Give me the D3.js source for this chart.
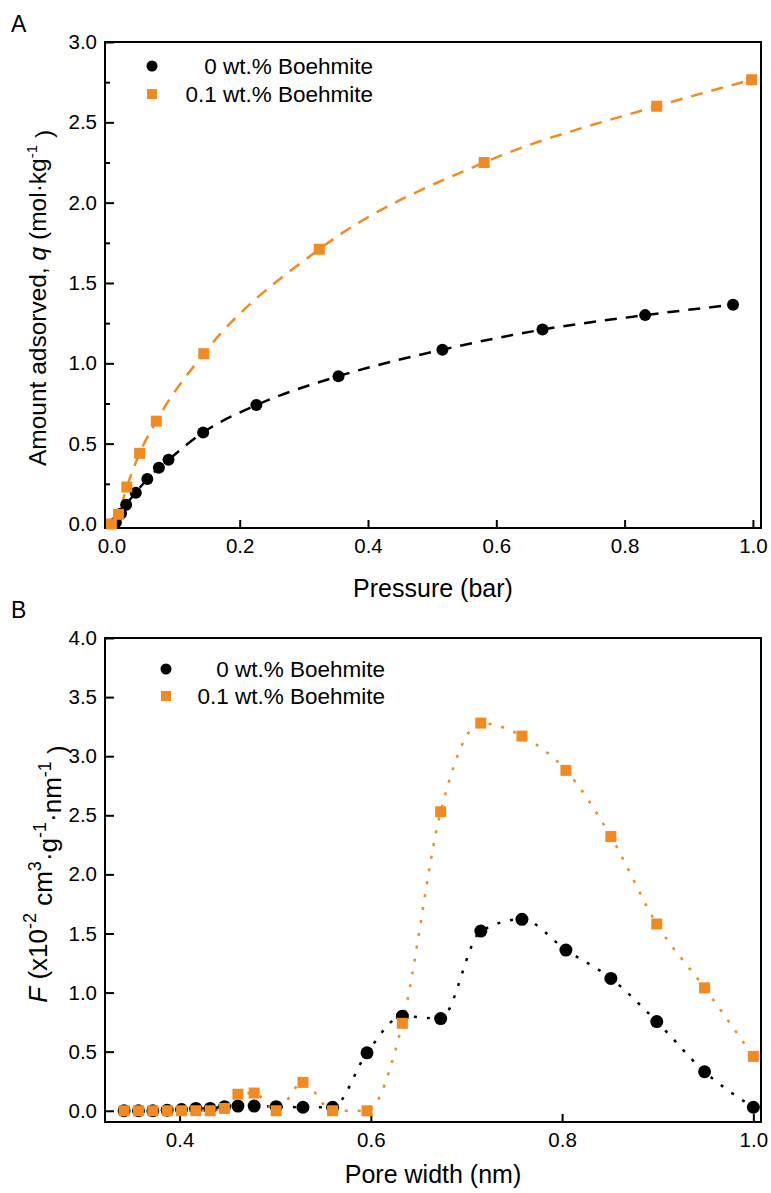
<!DOCTYPE html>
<html>
<head>
<meta charset="utf-8">
<script src="https://cdn.jsdelivr.net/npm/d3@7"></script>
<style>
  body { margin: 0; background: #fff; }
  svg text { font-family: Arial, "Liberation Sans", sans-serif; fill: #000; }
</style>
</head>
<body>
<div id="chart"></div>
<script>
const width = 771, height = 1193;
const orange = "#f28a22";
const seriesNames = ["0 wt.% Boehmite", "0.1 wt.% Boehmite"];

// panel A - adsorption isotherms
const pressure0 = [0.007, 0.015, 0.023, 0.038, 0.056, 0.074, 0.089, 0.143, 0.226, 0.354, 0.516, 0.672, 0.832, 0.969];
const q0 = [0.01, 0.065, 0.12, 0.195, 0.28, 0.35, 0.40, 0.57, 0.74, 0.92, 1.085, 1.21, 1.30, 1.365];
const pressure1 = [0.0, 0.011, 0.024, 0.044, 0.07, 0.144, 0.324, 0.581, 0.85, 0.998];
const q1 = [0.0, 0.06, 0.23, 0.44, 0.64, 1.06, 1.71, 2.25, 2.60, 2.765];
const ticksA_x = [0.0, 0.2, 0.4, 0.6, 0.8, 1.0];
const ticksA_y = [0.0, 0.5, 1.0, 1.5, 2.0, 2.5, 3.0];

// panel B - pore size distribution
const poreWidth = [0.342, 0.357, 0.372, 0.387, 0.402, 0.417, 0.432, 0.447, 0.461, 0.478, 0.501, 0.529, 0.560, 0.596, 0.633, 0.673, 0.715, 0.758, 0.804, 0.851, 0.899, 0.949, 1.0];
const f0 = [0.0, 0.0, 0.0, 0.005, 0.01, 0.02, 0.02, 0.035, 0.04, 0.04, 0.035, 0.03, 0.03, 0.49, 0.80, 0.78, 1.52, 1.62, 1.36, 1.12, 0.755, 0.33, 0.03];
const f1 = [0.0, 0.0, 0.0, 0.0, 0.0, 0.0, 0.0, 0.02, 0.14, 0.15, 0.0, 0.24, 0.0, 0.0, 0.74, 2.53, 3.28, 3.17, 2.88, 2.32, 1.58, 1.04, 0.46];
const ticksB_x = [0.4, 0.6, 0.8, 1.0];
const ticksB_y = [0.0, 0.5, 1.0, 1.5, 2.0, 2.5, 3.0, 3.5, 4.0];

const svg = d3.select("#chart")
  .append("svg")
  .attr("width", width)
  .attr("height", height);

const fmt = d3.format(".1f");

function drawPanel(p) {
  const x = d3.scaleLinear().domain(p.xDomain).range([p.left, p.right]);
  const y = d3.scaleLinear().domain(p.yDomain).range([p.bottom, p.top]);

  // inward ticks
  const gx = svg.append("g")
    .attr("transform", `translate(0,${p.bottom})`)
    .call(d3.axisBottom(x).tickValues(p.xTicks).tickSize(-8).tickPadding(10).tickFormat(fmt));
  const gy = svg.append("g")
    .attr("transform", `translate(${p.left},0)`)
    .call(d3.axisLeft(y).tickValues(p.yTicks).tickSize(-9).tickPadding(8).tickFormat(fmt));
  if (p.yMinor) {
    svg.append("g")
      .attr("transform", `translate(${p.left},0)`)
      .call(d3.axisLeft(y).tickValues(p.yMinor).tickSize(-5).tickFormat(""))
      .call(g => g.select(".domain").remove())
      .selectAll("line").attr("stroke-width", 2);
  }
  [gx, gy].forEach(g => {
    g.select(".domain").remove();
    g.selectAll(".tick line").attr("stroke-width", 2);
    g.selectAll(".tick text").style("font-size", "20.5px");
  });

  svg.append("rect")
    .attr("x", p.left).attr("y", p.top)
    .attr("width", p.right - p.left).attr("height", p.bottom - p.top)
    .attr("fill", "none").attr("stroke", "#000").attr("stroke-width", 2);

  const line = d3.line().x(d => x(d[0])).y(d => y(d[1])).curve(d3.curveMonotoneX);

  p.series.forEach(s => {
    const pts = s.xs.map((v, j) => [v, s.ys[j]]);
    svg.append("path")
      .datum(pts)
      .attr("d", line)
      .attr("fill", "none")
      .attr("stroke", s.color)
      .attr("stroke-width", 2.5)
      .attr("stroke-dasharray", p.dash);
  });

  p.series.forEach((s, i) => {
    const pts = s.xs.map((v, j) => [v, s.ys[j]]);
    if (i === 0) {
      svg.append("g").selectAll("circle").data(pts).join("circle")
        .attr("cx", d => x(d[0])).attr("cy", d => y(d[1]))
        .attr("r", p.r).attr("fill", s.color);
    } else {
      svg.append("g").selectAll("rect").data(pts).join("rect")
        .attr("x", d => x(d[0]) - p.sq / 2).attr("y", d => y(d[1]) - p.sq / 2)
        .attr("width", p.sq).attr("height", p.sq).attr("fill", s.color);
    }
  });

  // legend
  const lg = svg.append("g");
  lg.append("circle").attr("cx", p.legX).attr("cy", p.legY).attr("r", 5.5).attr("fill", "#000");
  lg.append("rect").attr("x", p.legX - 5).attr("y", p.legY + p.legDy - 5).attr("width", 10).attr("height", 10).attr("fill", orange);
  seriesNames.forEach((n, i) => {
    lg.append("text")
      .attr("x", p.legEnd).attr("y", p.legY + i * p.legDy)
      .attr("dy", "0.35em")
      .attr("text-anchor", "end")
      .style("font-size", "22.5px")
      .text(n);
  });

  // panel letter
  svg.append("text").attr("x", 11).attr("y", p.letterY)
    .style("font-size", "23px").text(p.letter);

  // x title
  svg.append("text")
    .attr("x", 433).attr("y", p.xTitleY)
    .attr("text-anchor", "middle")
    .style("font-size", "25px")
    .text(p.xTitle);

  return {x, y};
}

drawPanel({
  letter: "A", letterY: 32,
  left: 105, right: 761, top: 42, bottom: 528,
  xDomain: [-0.01, 1.0126], yDomain: [-0.025, 3.0],
  xTicks: ticksA_x, yTicks: ticksA_y, yMinor: [0.25, 0.75, 1.25, 1.75, 2.25, 2.75],
  dash: "12,9", r: 6, sq: 11,
  series: [
    {xs: pressure0, ys: q0, color: "#000"},
    {xs: pressure1, ys: q1, color: orange}
  ],
  legX: 152, legY: 66, legDy: 28, legEnd: 373,
  xTitle: "Pressure (bar)", xTitleY: 597
});

drawPanel({
  letter: "B", letterY: 618,
  left: 105, right: 761, top: 638, bottom: 1122,
  xDomain: [0.322, 1.008], yDomain: [-0.095, 4.0],
  xTicks: ticksB_x, yTicks: ticksB_y, yMinor: null,
  dash: "3,10", r: 6.5, sq: 11,
  series: [
    {xs: poreWidth, ys: f0, color: "#000"},
    {xs: poreWidth, ys: f1, color: orange}
  ],
  legX: 166, legY: 669, legDy: 27, legEnd: 385,
  xTitle: "Pore width (nm)", xTitleY: 1183
});

// y titles with italic symbol and superscripts
const ta = svg.append("text")
  .attr("transform", "translate(46,298) rotate(-90)")
  .attr("text-anchor", "middle")
  .style("font-size", "24.5px");
ta.append("tspan").text("Amount adsorved, ");
ta.append("tspan").style("font-style", "italic").text("q");
ta.append("tspan").text(" (mol·kg");
ta.append("tspan").attr("dy", "-0.6em").style("font-size", "15px").text("-1");
ta.append("tspan").attr("dy", "0.6em").text(" )");

const tb = svg.append("text")
  .attr("transform", "translate(47,874) rotate(-90)")
  .attr("text-anchor", "middle")
  .style("font-size", "26px");
tb.append("tspan").style("font-style", "italic").text("F");
tb.append("tspan").text(" (x10");
tb.append("tspan").attr("dy", "-0.6em").style("font-size", "18px").text("-2");
tb.append("tspan").attr("dy", "0.6em").text(" cm");
tb.append("tspan").attr("dy", "-0.6em").style("font-size", "18px").text("3");
tb.append("tspan").attr("dy", "0.6em").text("·g");
tb.append("tspan").attr("dy", "-0.6em").style("font-size", "18px").text("-1");
tb.append("tspan").attr("dy", "0.6em").text("·nm");
tb.append("tspan").attr("dy", "-0.6em").style("font-size", "18px").text("-1");
tb.append("tspan").attr("dy", "0.6em").text(" )");
</script>
</body>
</html>
